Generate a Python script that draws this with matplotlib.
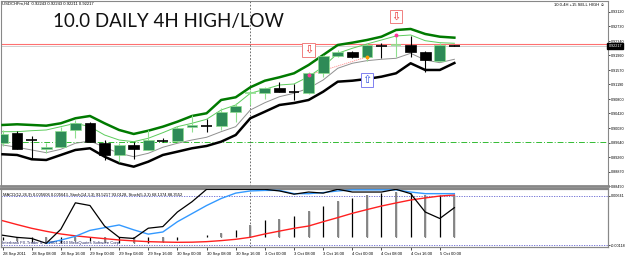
import numpy as np
import matplotlib.pyplot as plt
from matplotlib.patches import Rectangle

# ---- data (USDCHF 4H) ----
header = "USDCHFm,H4  0.92243 0.92243 0.92211 0.92217"
title = "10.0 DAILY 4H HIGH/LOW"
signal_text = "10.0-4H +15 SELL HIGH \u263a"
macd_text = ("MACD(12,26,9) 0.005606 0.005643, Stoch(14,3,3) 93.5217 93.0128, "
             "Stoch(5,3,3) 68.1374 88.3552")
copyright_text = "Interbank FX-Trader 4, \u00a9 2001-2010 MetaQuotes Software Corp."

opens = [0.89633, 0.89890, 0.89712, 0.89481, 0.89534, 0.89978, 0.90172, 0.89641,
         0.89314, 0.89580, 0.89447, 0.89712, 0.89686, 0.90066, 0.90103, 0.90084,
         0.90464, 0.90953, 0.90953, 0.91102, 0.90995, 0.90969, 0.91500, 0.91943,
         0.92058, 0.91909, 0.92236, 0.92228, 0.92236, 0.92058, 0.91819, 0.92243]
highs = [0.89978, 0.89959, 0.89819, 0.89633, 0.90066, 0.90244, 0.90191, 0.89712,
         0.89633, 0.89667, 0.89978, 0.89758, 0.90084, 0.90376, 0.90262, 0.90554,
         0.90687, 0.91040, 0.91128, 0.91261, 0.91200, 0.91526, 0.91970, 0.92103,
         0.92076, 0.92281, 0.92281, 0.92475, 0.92475, 0.92076, 0.92289, 0.92243]
lows = [0.89553, 0.89460, 0.89234, 0.89367, 0.89519, 0.89766, 0.89646, 0.89181,
        0.89136, 0.89200, 0.89434, 0.89659, 0.89659, 0.89933, 0.89933, 0.89978,
        0.90198, 0.90642, 0.90793, 0.90979, 0.90775, 0.90934, 0.91394, 0.91925,
        0.91890, 0.91819, 0.91882, 0.91925, 0.91925, 0.91526, 0.91784, 0.92211]
closes = [0.89872, 0.89481, 0.89699, 0.89519, 0.89959, 0.90172, 0.89667, 0.89314,
          0.89580, 0.89465, 0.89712, 0.89686, 0.90039, 0.90103, 0.90095, 0.90464,
          0.90615, 0.90969, 0.91102, 0.90995, 0.90987, 0.91484, 0.91943, 0.92058,
          0.91909, 0.92236, 0.92209, 0.92236, 0.92058, 0.91837, 0.92236, 0.92217]

band_high = [0.90111, 0.90129, 0.90111, 0.90092, 0.90156, 0.90289, 0.90350, 0.90156,
             0.89978, 0.89872, 0.89959, 0.90066, 0.90198, 0.90350, 0.90422, 0.90775,
             0.90847, 0.91112, 0.91287, 0.91378, 0.91484, 0.91704, 0.91970, 0.92236,
             0.92297, 0.92368, 0.92456, 0.92634, 0.92661, 0.92528, 0.92456, 0.92430]
band_low = [0.89333, 0.89314, 0.89200, 0.89181, 0.89314, 0.89447, 0.89492, 0.89269,
            0.89094, 0.89003, 0.89136, 0.89314, 0.89402, 0.89492, 0.89553, 0.89667,
            0.89845, 0.90289, 0.90464, 0.90642, 0.90695, 0.90775, 0.90995, 0.91261,
            0.91287, 0.91333, 0.91394, 0.91484, 0.91750, 0.91572, 0.91572, 0.91757]
inner_high = [0.89933, 0.89933, 0.89959, 0.89978, 0.90066, 0.90156, 0.90066, 0.89845,
              0.89712, 0.89667, 0.89758, 0.89906, 0.90066, 0.90156, 0.90262, 0.90509,
              0.90642, 0.90953, 0.91059, 0.91173, 0.91200, 0.91394, 0.91659, 0.92015,
              0.92148, 0.92262, 0.92368, 0.92475, 0.92501, 0.92350, 0.92297, 0.92281]
inner_low = [0.89580, 0.89519, 0.89447, 0.89375, 0.89465, 0.89625, 0.89686, 0.89519,
             0.89359, 0.89269, 0.89359, 0.89519, 0.89625, 0.89712, 0.89784, 0.89933,
             0.90066, 0.90509, 0.90703, 0.90862, 0.90953, 0.91086, 0.91306, 0.91617,
             0.91750, 0.91819, 0.91856, 0.91882, 0.92015, 0.91837, 0.91766, 0.91856]

price_levels = [0.93120, 0.92730, 0.92340, 0.91960, 0.91570, 0.91190, 0.90800,
                0.90420, 0.90030, 0.89640, 0.89260, 0.88870, 0.88490]
ask_line = 0.92254
bid_price = 0.92217
pivot_line = 0.89659

sell_arrows = [(21, 0.92103), (27, 0.92993)]
buy_arrows = [(25, 0.91306)]
marks_pink = [(21, 0.91439), (27, 0.92501)]
mark_orange = (25, 0.91917)

macd_hist = [-0.0004, -0.0005, -0.0007, -0.0008, -0.0008, -0.0006, -0.0005, -0.0007,
             -0.0009, -0.0009, -0.0008, -0.0007, -0.0004, 0.0001, 0.0004, 0.0007,
             0.0011, 0.0019, 0.0027, 0.0028, 0.0033, 0.0040, 0.0048, 0.0056,
             0.0060, 0.0065, 0.0068, 0.0070, 0.0068, 0.0065, 0.0065, 0.0065]
macd_signal = [0.00258, 0.00198, 0.00141, 0.00095, 0.00054, 0.00025, 0.00003, -0.00018,
               -0.00038, -0.00052, -0.00064, -0.00070, -0.00074, -0.00072, -0.00064, -0.00048,
               -0.00028, 0.00003, 0.00054, 0.00098, 0.00141, 0.00176, 0.00242, 0.00305,
               0.00371, 0.00428, 0.00483, 0.00530, 0.00575, 0.00607, 0.00636, 0.00652]
stoch_fast = [15, 11, 9, 0, 26, 75, 70, 32, 11, 9, 28, 31, 58, 77, 100, 100,
              100, 100, 100, 97, 91, 95, 93, 100, 95, 95, 95, 100, 92, 58, 46, 66]
stoch_slow = [np.nan, np.nan, np.nan, 0, 6, 13, 24, 29, 34, 25, 17, 21, 40, 55, 70, 83,
              93, 97, 98, 98, 92, 92, 94, 97, 99, 99, 99, 99, 95, 92, 92, 92]
macd_levels = [0.00641, -0.00118]

time_ticks = list(range(0, 32, 2))
time_labels = ["28 Sep 2011", "28 Sep 08:00", "28 Sep 16:00", "29 Sep 00:00",
               "29 Sep 08:00", "29 Sep 16:00", "30 Sep 00:00", "30 Sep 08:00",
               "30 Sep 16:00", "3 Oct 00:00", "3 Oct 08:00", "3 Oct 16:00",
               "4 Oct 00:00", "4 Oct 08:00", "4 Oct 16:00", "5 Oct 00:00"]
cursor_bar = 17

small = dict(fontsize=3.0, family=['Liberation Sans', 'DejaVu Sans'])
scale = dict(fontsize=2.7, family=['Liberation Sans', 'DejaVu Sans'])

# ---- figure ----
W, H = 625, 256
fig = plt.figure(figsize=(W / 100, H / 100), dpi=100)
fig.patch.set_facecolor('white')

ax = fig.add_axes([0.0016, 1 - 186 / H, 607 / W, 185 / H])
axm = fig.add_axes([0.0016, 1 - 247 / H, 607 / W, 58 / H])
axs = axm.twinx()

xlim = (-0.103, 41.54)
for a in (ax, axm, axs):
    a.set_xlim(*xlim)
    for s in a.spines.values():
        s.set_color('#888888')
        s.set_linewidth(0.8)
ax.spines['bottom'].set_linewidth(2)
axm.spines['top'].set_linewidth(1.5)

ax.set_ylim(0.88491, 0.93404)
axm.set_ylim(-0.00146, 0.00744)
axs.set_ylim(-6.8, 100.6)

x = np.arange(len(opens))

# bands
ax.plot(x, band_high, color='#007a00', lw=1.8, zorder=3)
ax.plot(x, band_low, color='black', lw=1.8, zorder=3)
ax.plot(x, inner_high, color='#5ccc5c', lw=0.7, zorder=3)
ax.plot(x, inner_low, color='#909090', lw=0.7, zorder=3)

# reference lines
ax.axhline(ask_line, color='#ff7070', lw=0.8, zorder=1)
ax.axhline(bid_price, color='#c8c8c8', lw=0.6, zorder=1)
ax.axhline(pivot_line, color='#33bb33', lw=0.7, ls=(0, (6, 2, 1, 2)), zorder=1)
for a in (ax, axm):
    a.axvline(cursor_bar, color='#555555', lw=0.6, ls=(0, (2, 2)), zorder=1)

# candles
bw = 0.74
for i in x:
    o, h, l, c = opens[i], highs[i], lows[i], closes[i]
    bull = c >= o
    wick = '#8fe08f' if bull else 'black'
    ax.vlines(i, l, h, color=wick, lw=0.8, zorder=4)
    if abs(c - o) < 0.0003:
        ax.hlines(c, i - bw / 2, i + bw / 2, color=('#8fe08f' if bull else 'black'),
                  lw=1.2, zorder=5)
    else:
        ax.add_patch(Rectangle((i - bw / 2, min(o, c)), bw, abs(c - o),
                               facecolor='#2e8b57' if bull else 'black',
                               edgecolor='#8fe08f' if bull else 'black',
                               lw=0.5, zorder=5))

# signal markers
for b, p in sell_arrows:
    ax.text(b, p, '\u21e9', color='#e83030', fontsize=8, ha='center', va='center',
            zorder=6, bbox=dict(boxstyle='square,pad=0.15', fc='white', ec='#f08080', lw=0.7))
for b, p in buy_arrows:
    ax.text(b, p, '\u21e7', color='#3050e0', fontsize=8, ha='center', va='center',
            zorder=6, bbox=dict(boxstyle='square,pad=0.15', fc='white', ec='#8080f0', lw=0.7))
ax.plot([m[0] for m in marks_pink], [m[1] for m in marks_pink], 'o', color='#ff3399',
        ms=1.8, ls='none', zorder=6)
ax.plot(*mark_orange, 'o', color='#ff9900', ms=1.8, zorder=6)
ax.plot([marks_pink[0][0], mark_orange[0]], [marks_pink[0][1], mark_orange[1]],
        color='#ff5050', lw=0.6, ls=(0, (1, 1.5)), zorder=2)

# right price scale
ax.yaxis.tick_right()
ax.set_yticks(price_levels)
ax.set_yticklabels(['%.5f' % v for v in price_levels], **scale)
ax.tick_params(axis='y', length=1.5, width=0.5, pad=0.6, colors='black')
ax.tick_params(axis='x', bottom=False, labelbottom=False)
ax.text(1.001, (bid_price - 0.88491) / (0.93404 - 0.88491), '%.5f' % bid_price,
        transform=ax.transAxes, color='white', va='center', ha='left',
        bbox=dict(boxstyle='square,pad=0.3', fc='black', ec='black'), zorder=7, **scale)

# lower panel: MACD + stochastics
axm.vlines(x, 0, macd_hist, color='black', lw=0.9, zorder=2)
axm.vlines(x[1::2], 0, np.array(macd_hist)[1::2], color='#888888', lw=1.4, zorder=2)
axm.plot(x, macd_signal, color='#ff2020', lw=1.0, zorder=3)
for lv in macd_levels:
    axm.axhline(lv, color='#6060d0', lw=0.6, ls=(0, (1.5, 1.5)), zorder=1)
axs.plot(x, stoch_slow, color='#3399ff', lw=1.0, zorder=3)
axs.plot(x, stoch_fast, color='black', lw=0.9, zorder=4)

axm.yaxis.tick_right()
axm.set_yticks(macd_levels)
axm.set_yticklabels(['%.5f' % v for v in macd_levels], **scale)
axm.tick_params(axis='y', length=1.5, width=0.5, pad=0.6)
axs.set_yticks([])
axm.set_xticks(time_ticks)
axm.set_xticklabels(time_labels, ha='left', **small)
axm.tick_params(axis='x', length=2, width=0.5, pad=1.5)

# texts
fig.text(2 / W, 1 - 4 / H, header, va='center', ha='left', **small)
fig.text(53 / W, 1 - 21 / H, title, fontsize=13.5, family='Lato', va='center', ha='left',
         color='#111111')
fig.text(605 / W, 1 - 5 / H, signal_text, va='center', ha='right', **small)
fig.text(3 / W, 1 - 195 / H, macd_text, va='center', ha='left', **small)
fig.text(2 / W, 1 - 243 / H, copyright_text, va='center', ha='left',
         color='#202060', **small)

fig.savefig('out.png', dpi=100, facecolor='white')
